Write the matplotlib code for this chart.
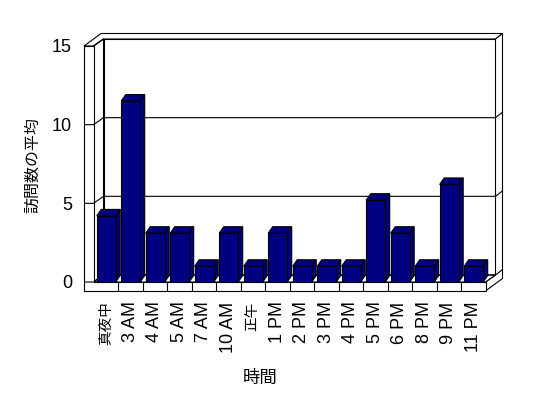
import numpy as np
import matplotlib
matplotlib.use('Agg')
from matplotlib import pyplot as plt
from matplotlib.patches import Polygon

plt.rcParams['font.family'] = ['Liberation Sans', 'Noto Sans CJK JP']

# data
hours = ['真夜中', '3 AM', '4 AM', '5 AM', '7 AM', '10 AM', '正午', '1 PM',
         '2 PM', '3 PM', '4 PM', '5 PM', '6 PM', '8 PM', '9 PM', '11 PM']
avg_visits = [4.2, 11.5, 3.1, 3.1, 1.0, 3.1, 1.0, 3.1,
              1.0, 1.0, 1.0, 5.2, 3.1, 1.0, 6.2, 1.0]
y_ticks = [0, 5, 10, 15]
x_title = '時間'
y_title = '訪問数の平均'

# layout (pixels of the 548x398 image)
W, H = 548, 398
n = len(hours)
ymax = 15
PX = 24.5              # px per category
PY = 236 / ymax        # px per unit
ax_left, ax_base = 93.5, 282


def off(px, py):
    # pixel offset (right, up) -> data units
    return px / PX, py / PY


wx, wy = off(10, 7)       # front plane -> back wall face
ox, oy = off(17, 12.5)    # front plane -> back of back wall
lw = 9.5 / PX             # left wall thickness
ft = 9 / PY               # floor thickness
g = 3.2 / PX              # gap before bar
bw = 19 / PX              # bar width
bx, by = off(4.5, 6.5)    # bar depth

navy = '#000080'
lwid = 0.8

fig = plt.figure(figsize=(W / 100, H / 100), dpi=100)
ax = fig.add_axes([ax_left / W, (H - ax_base) / H, n * PX / W, ymax * PY / H])
ax.set_xlim(0, n)
ax.set_ylim(0, ymax)
for s in ax.spines.values():
    s.set_visible(False)
ax.patch.set_visible(False)


def poly(pts, fc='white', z=1):
    ax.add_patch(Polygon(pts, closed=True, facecolor=fc, edgecolor='black',
                         linewidth=lwid, clip_on=False, zorder=z, joinstyle='miter'))


def line(xs, ys, z=2):
    ax.plot(xs, ys, color='black', linewidth=lwid, clip_on=False, zorder=z,
            solid_capstyle='butt')


# back wall front face
poly([(wx, wy), (n + wx, wy), (n + wx, ymax + wy), (wx, ymax + wy)], z=1)
# top of back wall + left wall top
poly([(-lw, ymax), (0, ymax), (wx, ymax + wy), (n + wx, ymax + wy),
      (n + ox, ymax + oy), (-lw + ox, ymax + oy)], z=1)
line([0, wx], [ymax, ymax + wy])
# right end faces (back wall + floor)
poly([(n, 0), (n, -ft), (n + ox, -ft + oy), (n + ox, ymax + oy),
      (n + wx, ymax + wy), (n + wx, wy)], z=1)
# left wall inner face
poly([(0, 0), (0, ymax), (wx, ymax + wy), (wx, wy)], z=1)
# floor top
poly([(0, 0), (n, 0), (n + wx, wy), (wx, wy)], z=1)
# left wall front + floor front
poly([(-lw, -ft), (n, -ft), (n, 0), (0, 0), (0, ymax), (-lw, ymax)], z=1)
for k in range(1, n):
    line([k, k], [-ft, 0])

# gridlines
for v in y_ticks[:-1]:
    line([-lw, 0, wx, n + wx, n + ox], [v, v, v + wy, v + wy, v + oy], z=1.5)

# bars
xs = np.arange(n) + g
ax.bar(xs, avg_visits, width=bw, align='edge', color=navy, edgecolor='black',
       linewidth=lwid, zorder=3)
for x0, v in zip(xs, avg_visits):
    x1 = x0 + bw
    poly([(x1, 0), (x1, v), (x1 + bx, v + by), (x1 + bx, by)], fc=navy, z=2.9)
    poly([(x0, v), (x1, v), (x1 + bx, v + by), (x0 + bx, v + by)], fc=navy, z=2.9)

# ticks
ax.set_xticks(np.arange(n) + 0.5)
ax.set_xticklabels(hours, rotation=90, fontsize=13)
for t in ax.get_xticklabels():
    if not t.get_text().isascii():
        t.set_fontsize(10.5)
ax.set_yticks(y_ticks)
ax.set_yticklabels([str(v) for v in y_ticks], fontsize=13)
ax.tick_params(axis='x', length=0, pad=14)
ax.tick_params(axis='y', length=0, pad=15.5)

fig.text(260 / W, 1 - 378 / H, x_title, fontsize=12.5, ha='center', va='center')
fig.text(33 / W, 1 - 165 / H, y_title, fontsize=11.5, rotation=90,
         ha='center', va='center')

fig.savefig('out.png', dpi=100)
